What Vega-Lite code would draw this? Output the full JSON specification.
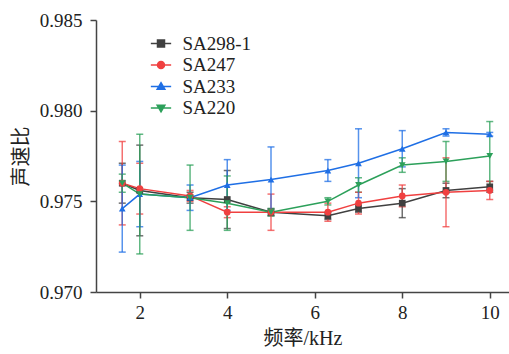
{
  "$schema": "https://vega.github.io/schema/vega-lite/v6.json",
  "width": 413,
  "height": 272,
  "autosize": {"type": "none"},
  "padding": {"left": 96, "top": 20, "right": 0, "bottom": 62},
  "background": "white",
  "config": {
    "view": {"stroke": null},
    "font": "Liberation Serif, Noto Sans CJK SC",
    "axis": {
      "grid": false,
      "domainColor": "#444",
      "domainWidth": 1.5,
      "tickColor": "#444",
      "tickWidth": 1.5,
      "tickSize": 6,
      "labelColor": "#222",
      "labelFont": "Liberation Serif, Noto Sans CJK SC",
      "labelFontSize": 19,
      "titleFont": "Liberation Serif, Noto Sans CJK SC",
      "titleFontSize": 20,
      "titleFontWeight": "normal",
      "titleColor": "#222"
    },
    "legend": {
      "labelFont": "Liberation Serif",
      "labelFontSize": 19,
      "labelColor": "#222"
    }
  },
  "data": {
    "values": [
      {"series": "SA298-1", "freq": 1.6, "v": 0.9760, "err": 0.0011},
      {"series": "SA298-1", "freq": 2, "v": 0.9756, "err": 0.0025},
      {"series": "SA298-1", "freq": 3.15, "v": 0.9752, "err": 0.0003},
      {"series": "SA298-1", "freq": 4, "v": 0.9751, "err": 0.0016},
      {"series": "SA298-1", "freq": 5, "v": 0.9744, "err": 0.0002},
      {"series": "SA298-1", "freq": 6.3, "v": 0.9742, "err": 0.0002},
      {"series": "SA298-1", "freq": 7, "v": 0.9746, "err": 0.0002},
      {"series": "SA298-1", "freq": 8, "v": 0.9749, "err": 0.0008},
      {"series": "SA298-1", "freq": 9, "v": 0.9756, "err": 0.0004},
      {"series": "SA298-1", "freq": 10, "v": 0.9758, "err": 0.0003},
      {"series": "SA247", "freq": 1.6, "v": 0.9760, "err": 0.0023},
      {"series": "SA247", "freq": 2, "v": 0.9757, "err": 0.0014},
      {"series": "SA247", "freq": 3.15, "v": 0.9753, "err": 0.0003},
      {"series": "SA247", "freq": 4, "v": 0.9744, "err": 0.0003},
      {"series": "SA247", "freq": 5, "v": 0.9744, "err": 0.0010},
      {"series": "SA247", "freq": 6.3, "v": 0.9744, "err": 0.0005},
      {"series": "SA247", "freq": 7, "v": 0.9749, "err": 0.0006},
      {"series": "SA247", "freq": 8, "v": 0.9753, "err": 0.0006},
      {"series": "SA247", "freq": 9, "v": 0.9755, "err": 0.0019},
      {"series": "SA247", "freq": 10, "v": 0.9756, "err": 0.0005},
      {"series": "SA233", "freq": 1.6, "v": 0.9746, "err": 0.0024},
      {"series": "SA233", "freq": 2, "v": 0.9754, "err": 0.0018},
      {"series": "SA233", "freq": 3.15, "v": 0.9752, "err": 0.0007},
      {"series": "SA233", "freq": 4, "v": 0.9759, "err": 0.0014},
      {"series": "SA233", "freq": 5, "v": 0.9762, "err": 0.0018},
      {"series": "SA233", "freq": 6.3, "v": 0.9767, "err": 0.0006},
      {"series": "SA233", "freq": 7, "v": 0.9771, "err": 0.0019},
      {"series": "SA233", "freq": 8, "v": 0.9779, "err": 0.0010},
      {"series": "SA233", "freq": 9, "v": 0.9788, "err": 0.0002},
      {"series": "SA233", "freq": 10, "v": 0.9787, "err": 0.0001},
      {"series": "SA220", "freq": 1.6, "v": 0.9760, "err": 0.0005},
      {"series": "SA220", "freq": 2, "v": 0.9754, "err": 0.0033},
      {"series": "SA220", "freq": 3.15, "v": 0.9752, "err": 0.0018},
      {"series": "SA220", "freq": 4, "v": 0.9749, "err": 0.0015},
      {"series": "SA220", "freq": 5, "v": 0.9744, "err": 0.0002},
      {"series": "SA220", "freq": 6.3, "v": 0.9750, "err": 0.0002},
      {"series": "SA220", "freq": 7, "v": 0.9759, "err": 0.0004},
      {"series": "SA220", "freq": 8, "v": 0.9770, "err": 0.0004},
      {"series": "SA220", "freq": 9, "v": 0.9772, "err": 0.0011},
      {"series": "SA220", "freq": 10, "v": 0.9775, "err": 0.0019}
    ]
  },
  "encoding": {
    "x": {
      "field": "freq",
      "type": "quantitative",
      "scale": {"domain": [1, 10.44], "nice": false, "zero": false},
      "axis": {"values": [2, 4, 6, 8, 10], "format": "d", "title": "频率/kHz", "labelPadding": 5, "titlePadding": 6}
    },
    "y": {
      "field": "v",
      "type": "quantitative",
      "scale": {"domain": [0.970, 0.985], "nice": false, "zero": false},
      "axis": {"values": [0.970, 0.975, 0.980, 0.985], "format": ".3f", "title": "声速比", "labelPadding": 8, "titlePadding": 8}
    },
    "color": {
      "field": "series",
      "type": "nominal",
      "scale": {"domain": ["SA298-1", "SA247", "SA233", "SA220"], "range": ["#404040", "#f04040", "#1f6fe5", "#2ca05a"]},
      "legend": {
        "title": "",
        "orient": "none",
        "legendX": 55.5,
        "legendY": 14,
        "labelFont": "Liberation Serif",
        "labelFontSize": 19,
        "labelColor": "#222",
        "labelOffset": 12,
        "rowPadding": 1.5,
        "symbolSize": 49,
        "symbolStrokeWidth": 1.5,
        "symbolOpacity": 1,
        "encode": {
          "symbols": {
            "update": {
              "fill": {"scale": "color", "field": "value"},
              "stroke": {"scale": "color", "field": "value"},
              "strokeWidth": {"value": 1.5},
              "opacity": {"value": 1}
            }
          }
        }
      }
    }
  },
  "layer": [
    {
      "mark": {"type": "errorbar", "ticks": {"size": 7, "thickness": 1.5}, "thickness": 1.5, "opacity": 0.75},
      "encoding": {"yError": {"field": "err"}}
    },
    {
      "mark": {"type": "line", "strokeWidth": 1.5},
      "encoding": {}
    },
    {
      "transform": [{"filter": "datum.series === 'SA298-1'"}],
      "mark": {"type": "point", "filled": true, "size": 45, "opacity": 1, "shape": "square"},
      "encoding": {}
    },
    {
      "transform": [{"filter": "datum.series === 'SA247'"}],
      "mark": {"type": "point", "filled": true, "size": 45, "opacity": 1, "shape": "circle"},
      "encoding": {}
    },
    {
      "transform": [{"filter": "datum.series === 'SA233'"}],
      "mark": {"type": "point", "filled": true, "size": 45, "opacity": 1, "shape": "triangle-up"},
      "encoding": {}
    },
    {
      "transform": [{"filter": "datum.series === 'SA220'"}],
      "mark": {"type": "point", "filled": true, "size": 45, "opacity": 1, "shape": "triangle-down"},
      "encoding": {}
    },
    {
      "transform": [{"filter": "datum.freq < 0"}],
      "mark": {"type": "point", "filled": true, "size": 49, "strokeWidth": 1.5},
      "encoding": {
        "shape": {
          "field": "series",
          "type": "nominal",
          "scale": {"domain": ["SA298-1", "SA247", "SA233", "SA220"], "range": [
            "M-2.9,0H2.9M-1,-1H1V1H-1Z",
            "M-2.9,0H2.9M1,0A1,1,0,1,1,-1,0A1,1,0,1,1,1,0Z",
            "M-2.9,0H2.9M0,-1.1L1.1,0.8H-1.1Z",
            "M-2.9,0H2.9M0,1.1L1.1,-0.8H-1.1Z"
          ]},
          "legend": {
            "title": "",
            "orient": "none",
            "legendX": 55.5,
            "legendY": 14,
            "labelFont": "Liberation Serif",
            "labelFontSize": 19,
            "labelColor": "#222",
            "labelOffset": 12,
            "rowPadding": 1.5,
            "symbolSize": 49,
            "symbolStrokeWidth": 1.5,
            "symbolOpacity": 1,
            "encode": {
              "symbols": {
                "update": {
                  "fill": {"scale": "color", "field": "value"},
                  "stroke": {"scale": "color", "field": "value"},
                  "strokeWidth": {"value": 1.5},
                  "opacity": {"value": 1}
                }
              }
            }
          }
        }
      }
    }
  ]
}
